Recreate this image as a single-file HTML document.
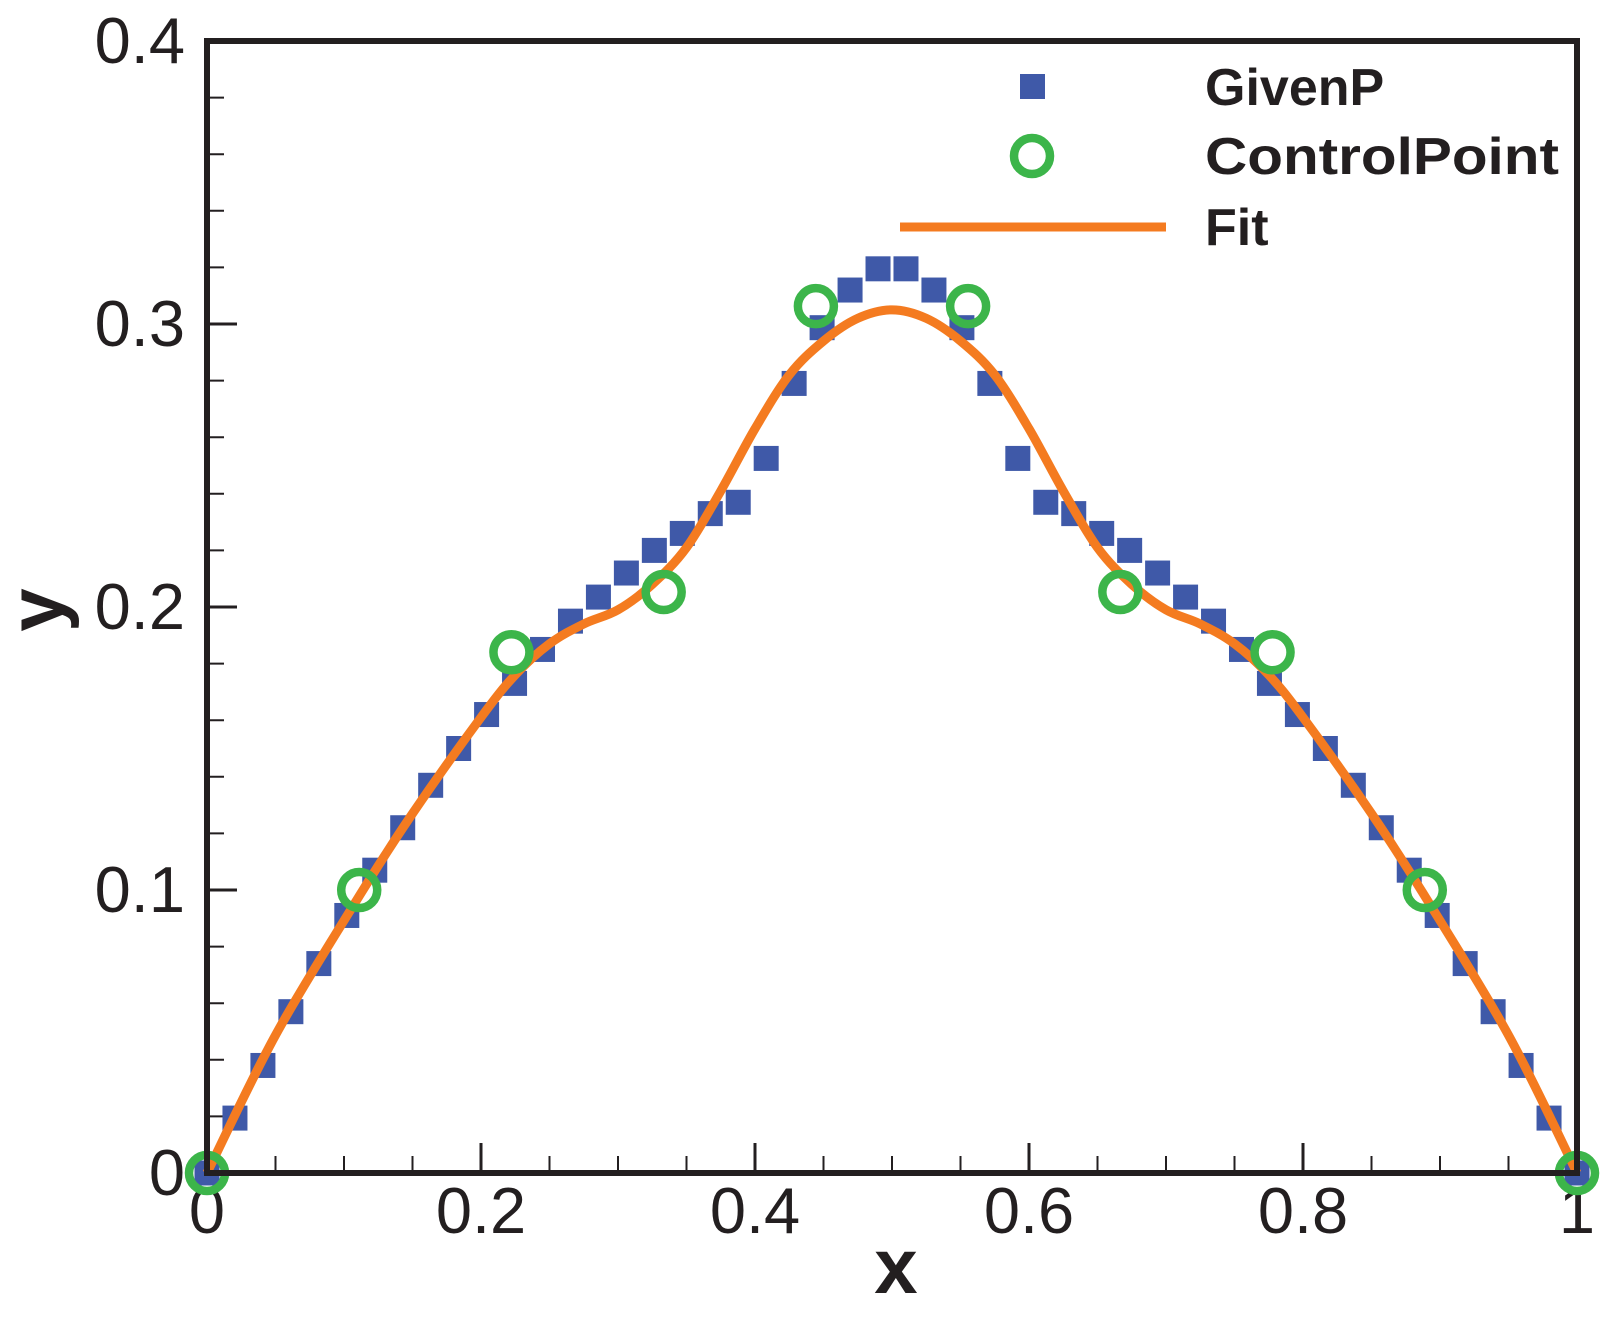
<!DOCTYPE html>
<html><head><meta charset="utf-8"><style>body{margin:0;background:#fff}svg{display:block}</style></head>
<body>
<svg id="chart" width="1621" height="1323" viewBox="0 0 1621 1323" xmlns="http://www.w3.org/2000/svg" font-family="Liberation Sans, Arial, sans-serif">
<g id="ticks"></g>
<g id="series"></g>
<rect x="207" y="41" width="1370" height="1132" fill="none" stroke="#231f20" stroke-width="6"/>
<text x="896" y="1293" font-size="78" font-weight="bold" text-anchor="middle" fill="#231f20">x</text>
<text transform="translate(63,610) rotate(-90)" font-size="78" font-weight="bold" text-anchor="middle" fill="#231f20">y</text>
<g>
  <rect x="1020" y="74" width="25" height="25" fill="#3f59a8"/>
  <text x="1205" y="105" font-size="52" font-weight="bold" fill="#231f20">GivenP</text>
  <circle cx="1032" cy="156" r="18" fill="none" stroke="#3cb54a" stroke-width="8.5"/>
  <text x="1205" y="174" font-size="52" font-weight="bold" fill="#231f20" textLength="354" lengthAdjust="spacingAndGlyphs">ControlPoint</text>
  <line x1="900" y1="227" x2="1166" y2="227" stroke="#f47b20" stroke-width="9"/>
  <text x="1205" y="245" font-size="52" font-weight="bold" fill="#231f20">Fit</text>
</g>
</svg>
<script>
const givenHalf=[0,0.0194,0.038,0.057,0.074,0.091,0.107,0.122,0.137,0.150,0.162,0.173,0.185,0.195,0.2035,0.212,0.220,0.226,0.233,0.237,0.2525,0.279,0.2987,0.312,0.3195];
const givenY=givenHalf.concat(givenHalf.slice().reverse());
const ctrlX=[0,1/9,2/9,3/9,4/9,5/9,6/9,7/9,8/9,1];
const ctrlY=[0,0.1,0.184,0.2053,0.3063,0.3063,0.2053,0.184,0.1,0];
const fitX=[0,0.05,0.11,0.15,0.2,0.225,0.25,0.275,0.3,0.325,0.35,0.375,0.4,0.425,0.45,0.475,0.5,0.525,0.55,0.575,0.6,0.625,0.65,0.675,0.7,0.725,0.75,0.775,0.8,0.85,0.89,0.95,1];
const fitY=[0,0.0487,0.097,0.127,0.161,0.176,0.187,0.194,0.199,0.208,0.221,0.241,0.263,0.282,0.294,0.302,0.305,0.302,0.294,0.282,0.263,0.241,0.221,0.208,0.199,0.194,0.187,0.176,0.161,0.127,0.097,0.0487,0];
const xTicks=[0,0.2,0.4,0.6,0.8,1];
const xTickLabels=["0","0.2","0.4","0.6","0.8","1"];
const yTicks=[0,0.1,0.2,0.3,0.4];
const yTickLabels=["0","0.1","0.2","0.3","0.4"];
const NS="http://www.w3.org/2000/svg";
const sx=v=>207+v*1370, sy=v=>1173-v*2830;
function mk(t,a,p){const e=document.createElementNS(NS,t);for(const k in a)e.setAttribute(k,a[k]);p.appendChild(e);return e;}
const tg=document.getElementById('ticks'), sg=document.getElementById('series');
for(let i=1;i<20;i++){const v=i*0.05;const major=i%4===0;
 const l=mk('line',{x1:sx(v),x2:sx(v),y1:1173,y2:1173-(major?30:17),stroke:'#231f20','stroke-width':major?3:2},tg);
 
 }
for(let i=1;i<20;i++){const v=i*0.02;const major=i%5===0;
 const l=mk('line',{x1:207,x2:207+(major?30:17),y1:sy(v),y2:sy(v),stroke:'#231f20','stroke-width':major?3:2},tg);
 
 }
xTicks.forEach((v,i)=>{const t=mk('text',{x:sx(v),y:1233,'font-size':65,'text-anchor':'middle',fill:'#231f20'},tg);t.textContent=xTickLabels[i];
 
 });
yTicks.forEach((v,i)=>{const t=mk('text',{x:185,y:sy(v)+22,'font-size':65,'text-anchor':'end',fill:'#231f20'},tg);t.textContent=yTickLabels[i];
 
 });
givenY.forEach((v,i)=>{const r=mk('rect',{x:sx(i/49)-12.5,y:sy(v)-12.5,width:25,height:25,fill:'#3f59a8'},sg);
 
 });
const P=fitX.map((x,i)=>[sx(x),sy(fitY[i])]);
let d='M'+P[0][0]+','+P[0][1];
for(let i=0;i<P.length-1;i++){const p0=P[Math.max(i-1,0)],p1=P[i],p2=P[i+1],p3=P[Math.min(i+2,P.length-1)];
 d+=' C'+(p1[0]+(p2[0]-p0[0])/6)+','+(p1[1]+(p2[1]-p0[1])/6)+' '+(p2[0]-(p3[0]-p1[0])/6)+','+(p2[1]-(p3[1]-p1[1])/6)+' '+p2[0]+','+p2[1];}
const fp=mk('path',{d:d,fill:'none',stroke:'#f47b20','stroke-width':9,'stroke-linejoin':'round'},sg);


ctrlX.forEach((x,i)=>{const c=mk('circle',{cx:sx(x),cy:sy(ctrlY[i]),r:18,fill:'none',stroke:'#3cb54a','stroke-width':8.5},sg);
 
 });
</script>
</body></html>
